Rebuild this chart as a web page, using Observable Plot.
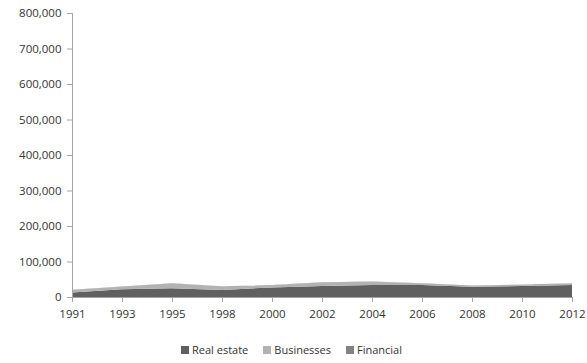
<!DOCTYPE html>
<html>
<head>
<meta charset="utf-8">
<script src="https://cdn.jsdelivr.net/npm/d3@7"></script>
<script src="https://cdn.jsdelivr.net/npm/@observablehq/plot@0.6"></script>
<style>
  html, body { margin: 0; padding: 0; background: #fff; }
  body { width: 587px; height: 363px; overflow: hidden; font-family: "Open Sans", "Liberation Sans", sans-serif; }
  #legend { display: flex; justify-content: center; gap: 15px; font-size: 11px; color: #333; margin-top: 12px; padding-right: 4px; }
  #legend span.item { display: inline-flex; align-items: center; }
  #legend span.sw { display: inline-block; width: 8px; height: 8px; margin-right: 3px; }
</style>
</head>
<body>
<div id="chart"></div>
<div id="legend"></div>
<script>
const years = ["1991","1993","1995","1998","2000","2002","2004","2006","2008","2010","2012"];
const realEstate = [13000, 22000, 25000, 20000, 27000, 31000, 34000, 34000, 29000, 31000, 34000];
const businesses = [7000, 7000, 13000, 10000, 6000, 10000, 9000, 4000, 3000, 4000, 4000];
const financial  = [500, 500, 500, 500, 500, 500, 500, 500, 500, 500, 500];
const seriesNames = ["Real estate", "Businesses", "Financial"];
const seriesColors = ["#606060", "#b2b2b2", "#828282"];
const yTicks = [0, 100000, 200000, 300000, 400000, 500000, 600000, 700000, 800000];

const seriesValues = [realEstate, businesses, financial];
const data = [];
seriesNames.forEach((s, si) => years.forEach((y, i) => data.push({year: y, series: s, value: seriesValues[si][i]})));

const fmt = d3.format(",");
const chart = Plot.plot({
  width: 587,
  height: 330,
  marginLeft: 72,
  marginRight: 15,
  marginTop: 13,
  marginBottom: 33,
  style: {fontFamily: "'Open Sans', 'Liberation Sans', sans-serif", fontSize: "11.5px", color: "#333", background: "#fff"},
  x: {type: "point", domain: years, padding: 0, label: null},
  y: {domain: [0, 800000], label: null},
  color: {domain: seriesNames, range: seriesColors},
  marks: [
    Plot.areaY(data, {x: "year", y: "value", fill: "series", order: seriesNames, z: "series"}),
    Plot.ruleX([years[0]], {stroke: "#a6a6a6"}),
    Plot.ruleY([0], {stroke: "#a6a6a6"}),
    Plot.axisY({ticks: yTicks, tickFormat: fmt, tickSize: 5, tickPadding: 6, stroke: "#a6a6a6", fill: "#333", label: null}),
    Plot.axisX({tickSize: 5, tickPadding: 7, stroke: "#a6a6a6", fill: "#333", label: null})
  ]
});
document.getElementById("chart").appendChild(chart);

const legend = document.getElementById("legend");
seriesNames.forEach((s, i) => {
  const item = document.createElement("span");
  item.className = "item";
  const sw = document.createElement("span");
  sw.className = "sw";
  sw.style.background = seriesColors[i];
  item.appendChild(sw);
  item.appendChild(document.createTextNode(s));
  legend.appendChild(item);
});
</script>
</body>
</html>
